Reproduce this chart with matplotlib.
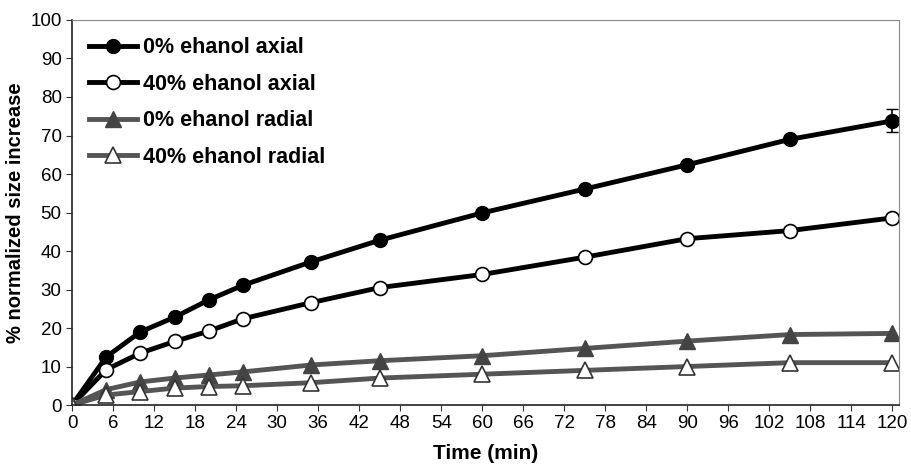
import matplotlib

matplotlib.use("Agg")
import matplotlib.pyplot as plt

plt.rcParams["font.family"] = ["Liberation Sans", "DejaVu Sans"]

time_min = [0, 5, 10, 15, 20, 25, 35, 45, 60, 75, 90, 105, 120]
axial_0 = [0, 12.5, 19, 22.8, 27.3, 31.1, 37.2, 42.8, 49.9, 56.1, 62.4, 69, 73.8]
axial_40 = [0, 9.2, 13.5, 16.5, 19.2, 22.4, 26.6, 30.5, 33.9, 38.4, 43.2, 45.3, 48.6]
radial_0 = [0, 4, 6, 7, 7.8, 8.6, 10.4, 11.5, 12.8, 14.7, 16.6, 18.3, 18.6]
radial_40 = [0, 2.6, 3.5, 4.4, 4.8, 5, 5.8, 7, 8, 9, 10, 11, 11]
axial_0_err = 3
x_ticks = list(range(0, 121, 6))
y_ticks = list(range(0, 101, 10))

fig = plt.figure(figsize=(9.12, 4.65), dpi=100)
ax = fig.add_axes([0.079, 0.129, 0.907, 0.828])

dark = "#000000"
grey = "#555555"
ax.plot(time_min, axial_0, color=dark, lw=3.5, marker="o", ms=10,
        mfc=dark, mec=dark, label="0% ehanol axial")
ax.errorbar(time_min[-1], axial_0[-1], yerr=axial_0_err, color=dark,
            capsize=4, elinewidth=1.2, fmt="none")
ax.plot(time_min, axial_40, color=dark, lw=3.5, marker="o", ms=10,
        mfc="white", mec=dark, mew=1.2, label="40% ehanol axial")
ax.plot(time_min, radial_0, color=grey, lw=3.5, marker="^", ms=11,
        mfc="#444444", mec="#444444", label="0% ehanol radial")
ax.plot(time_min, radial_40, color=grey, lw=3.5, marker="^", ms=11,
        mfc="white", mec="#333333", mew=1.2, label="40% ehanol radial")

ax.set_xlim(0, 121)
ax.set_ylim(0, 100)
ax.set_xticks(x_ticks)
ax.set_yticks(y_ticks)
ax.tick_params(labelsize=13.5, direction="out", length=4, color="#333333")
for side in ("top", "right"):
    ax.spines[side].set_color("#888888")
for side in ("left", "bottom"):
    ax.spines[side].set_color("#222222")
    ax.spines[side].set_linewidth(1.2)

ax.set_xlabel("Time (min)", fontsize=15, fontweight="bold", labelpad=8)
ax.set_ylabel("% normalized size increase", fontsize=14.5, fontweight="bold")

ax.legend(loc="upper left", frameon=False, prop={"weight": "bold", "size": 15.5},
          handlelength=2.2, handletextpad=0.3, labelspacing=0.72,
          borderaxespad=0.4)

fig.savefig("out.png", dpi=100)
plt.close(fig)
